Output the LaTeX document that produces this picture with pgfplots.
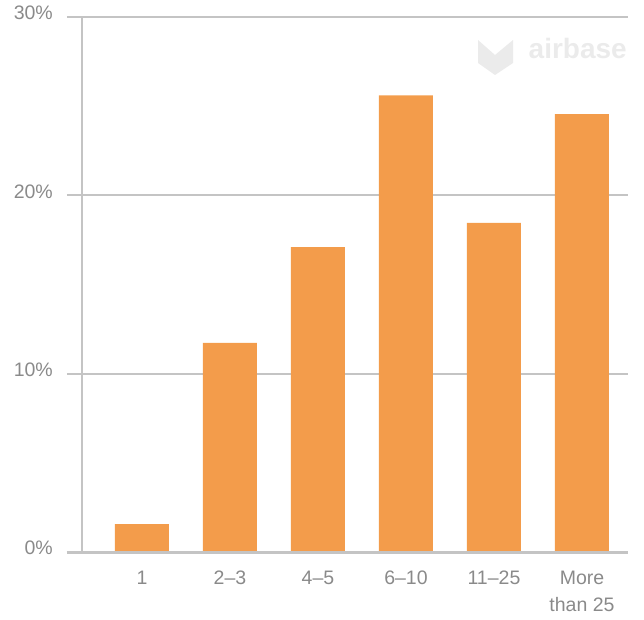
\documentclass[border=0pt]{standalone}
\usepackage{fontspec}
\setmainfont{Liberation Sans}
\usepackage{pgfplots}
\pgfplotsset{compat=1.18}
\definecolor{barc}{HTML}{F39C4B}
\definecolor{gridc}{HTML}{C4C4C4}
\definecolor{txtc}{HTML}{8A8A8A}
\definecolor{wm}{HTML}{EBEBEB}
\begin{document}
\begin{tikzpicture}[x=1pt,y=1pt]
\useasboundingbox (-67,-67) rectangle (577,552);
% watermark
\fill[wm] (411,512) -- (428,497) -- (446,512) -- (446,489) -- (428,477) -- (411,489) -- cycle;
\node[anchor=base east, inner sep=0pt, text=wm, font=\bfseries\fontsize{28}{30}\selectfont] at (560,493) {airbase};
\begin{axis}[at={(0,0)}, anchor=south west, scale only axis,
  width=561pt, height=535pt,
  xmin=-0.852, xmax=5.523, ymin=0, ymax=30,
  axis line style={draw=none}, tick style={draw=none},
  ymajorgrids, grid style={gridc, line width=1.8pt},
  ytick={0,10,20,30},
  yticklabel={\pgfmathprintnumber{\tick}\%},
  yticklabel style={anchor=east, inner sep=0pt, xshift=-14pt, yshift=4pt},
  /pgf/number format/assume math mode=true,
  xtick={0,1,2,3,4,5},
  xticklabels={1,2\textendash3,4\textendash5,6\textendash10,11\textendash25,{More\\than 25}},
  xticklabel style={align=center, anchor=north, inner sep=0pt, yshift=-19pt},
  ticklabel style={font=\fontsize{19.5}{27}\selectfont, text=txtc},
  clip=false,
]
\addplot[ybar, bar width=54pt, fill=barc, draw=none] coordinates {
  (0,1.57) (1,11.72) (2,17.1) (3,25.6) (4,18.45) (5,24.56)};
\draw[gridc, line width=2.5pt] (axis cs:-0.682,0) -- (axis cs:-0.682,30);
\draw[gridc, line width=3pt] (axis cs:-0.852,0) -- (axis cs:5.523,0);
\end{axis}
\end{tikzpicture}
\end{document}
